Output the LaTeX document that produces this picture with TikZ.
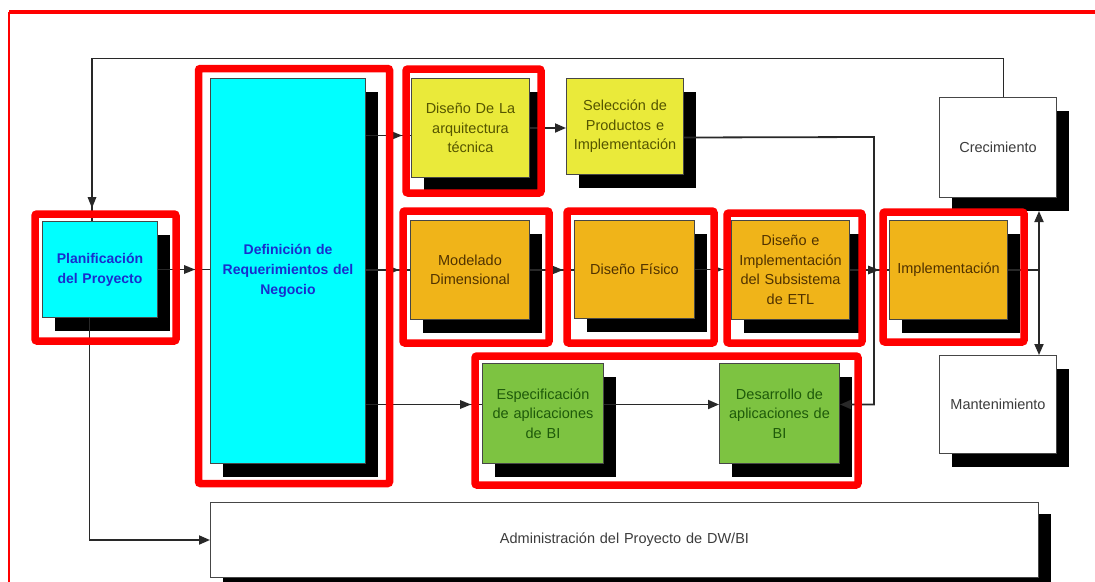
\documentclass[tikz,border=0pt]{standalone}
\usepackage{fontspec}
\setmainfont{Liberation Sans}
\usetikzlibrary{arrows.meta,shadows,decorations.markings}
\definecolor{cyanbox}{RGB}{0,255,255}
\definecolor{yellowbox}{RGB}{234,234,58}
\definecolor{orangebox}{RGB}{240,180,25}
\definecolor{greenbox}{RGB}{125,195,65}
\definecolor{bluetext}{RGB}{25,45,205}
\definecolor{olivetext}{RGB}{85,85,0}
\definecolor{browntext}{RGB}{80,50,0}
\definecolor{greentext}{RGB}{30,90,10}
\definecolor{graytext}{RGB}{60,60,60}
\definecolor{boxline}{RGB}{70,70,70}
\definecolor{connline}{RGB}{40,40,40}
\definecolor{framered}{RGB}{255,0,0}
\begin{document}
\begin{tikzpicture}[x=1pt,y=-1pt,
  box/.style={draw=boxline, line width=1pt, anchor=north west, inner sep=2pt, align=center,
    font=\fontsize{14.5}{19.5}\selectfont,
    drop shadow={shadow xshift=12pt, shadow yshift=-13pt, fill=black, opacity=1}},
  bluebox/.style={box, fill=cyanbox, text=bluetext, font=\bfseries\fontsize{14}{20}\selectfont},
  yellowst/.style={box, fill=yellowbox, text=olivetext},
  orangest/.style={box, fill=orangebox, text=browntext},
  greenst/.style={box, fill=greenbox, text=greentext},
  whitest/.style={box, fill=white, text=graytext},
  conn/.style={draw=connline, line width=1.8pt},
  tipend/.style={conn, -{Triangle[length=11pt,width=9pt]}},
  tipat/.style={conn, postaction={decorate}, decoration={markings, mark=at position #1 with {\fill[connline] (0pt,0pt) -- (-11pt,4.5pt) -- (-11pt,-4.5pt) -- cycle;}}},
  redframe/.style={draw=framered, line width=7.5pt, rounded corners=2pt},
]
\useasboundingbox (0,0) rectangle (1095,581);
\clip (0,0) rectangle (1095,581);
\fill[white] (0,0) rectangle (1095,581);
% outer frame
\draw[framered, line width=4pt] (9,12) -- (1100,12);
\draw[framered, line width=2.2pt] (9,12) -- (9,600);

% boxes
\node[bluebox, minimum width=115pt, minimum height=96pt, text width=109pt] (plan) at (42,221) {Planificación\\del Proyecto};
\node[bluebox, minimum width=155pt, minimum height=385pt, text width=149pt] (def) at (210,78) {Definición de\\Requerimientos del\\Negocio};
\node[yellowst, minimum width=118pt, minimum height=99pt, text width=112pt] (arq) at (411,78) {Diseño De La\\arquitectura\\técnica};
\node[yellowst, minimum width=117pt, minimum height=96pt, text width=113pt] (sel) at (566,78) {Selección de\\Productos e\\Implementación};
\node[whitest, minimum width=117pt, minimum height=100pt, text width=111pt] (crec) at (939,97) {Crecimiento};
\node[orangest, minimum width=119pt, minimum height=99pt, text width=113pt] (mod) at (410,220) {Modelado\\Dimensional};
\node[orangest, minimum width=120pt, minimum height=98pt, text width=114pt] (fis) at (574,220) {Diseño Físico};
\node[orangest, minimum width=116pt, minimum height=99pt, text width=114pt] (etl) at (731,220) {Diseño e\\Implementación\\del Subsistema\\de ETL};
\node[orangest, minimum width=118pt, minimum height=99pt, text width=114pt] (impl) at (889,220) {Implementación};
\node[greenst, minimum width=121pt, minimum height=100pt, text width=117pt] (espec) at (482,363) {Especificación\\de aplicaciones\\de BI};
\node[greenst, minimum width=120pt, minimum height=100pt, text width=116pt] (des) at (719,363) {Desarrollo de\\aplicaciones de\\BI};
\node[whitest, minimum width=117pt, minimum height=98pt, text width=111pt] (mant) at (939,355) {Mantenimiento};
\node[whitest, minimum width=828pt, minimum height=75pt, text width=800pt, drop shadow={shadow xshift=12pt, shadow yshift=-11pt, fill=black, opacity=1}] (admin) at (210,502) {Administración del Proyecto de DW/BI};

% helper coordinates
\coordinate (arqin) at ([yshift=-7.5pt]arq.west);
\coordinate (espin) at ([yshift=9pt]espec.west);
\coordinate (selout) at ([yshift=-11pt]sel.east);
\coordinate (bend) at (874,137);
\coordinate (jn) at (1039,270);
\coordinate (crecsh) at ([yshift=-13pt]crec.south);
\coordinate (ct) at ([xshift=5.5pt]crec.north);
\coordinate (tl) at (92,58.5);
\coordinate (pbx) at ([xshift=-10.5pt]plan.south);

% connectors
\draw[tipat=-15pt] (plan.east) -- (plan.east -| def.west);
\draw[tipat=-9pt] (def.east |- arqin) -- (arqin);
\draw[tipat=-11pt] (def.east |- mod.west) -- (mod.west);
\draw[tipat=-11pt] (def.east |- espin) -- (espin);
\draw[tipend] (arq.east) -- (arq.east -| sel.west);
\draw[tipat=-11pt] (mod.east) -- (mod.east -| fis.west);
\draw[tipat=-8pt] (fis.east) -- (fis.east -| etl.west);
\draw[tipat=-10pt] (etl.east) -- (etl.east -| impl.west);
\draw[tipend] (espin -| espec.east) -- (espin -| des.west);
\draw[tipend] (selout) -- (bend) |- (espin -| des.east);
\draw[conn] (impl.east) -- (impl.east -| jn);
\draw[tipend] (jn) -- (jn |- mant.north);
\draw[tipend] (jn) -- (jn |- crecsh);
\draw[tipat=-13pt] (ct) |- (tl) -- (tl |- plan.north);
\draw[tipend] (pbx) |- (admin.west);

% red frames
\draw[redframe] (35,214) rectangle (176,341);
\draw[redframe] (198.5,68.5) rectangle (389.5,483.5);
\draw[redframe] (406,69) rectangle (541,193);
\draw[redframe] (403,211) rectangle (549,343);
\draw[redframe] (567,211) rectangle (714,343);
\draw[redframe] (727,213) rectangle (862,343);
\draw[redframe] (883,212) rectangle (1024,342);
\draw[redframe] (475,356) rectangle (858,485);
\end{tikzpicture}
\end{document}
